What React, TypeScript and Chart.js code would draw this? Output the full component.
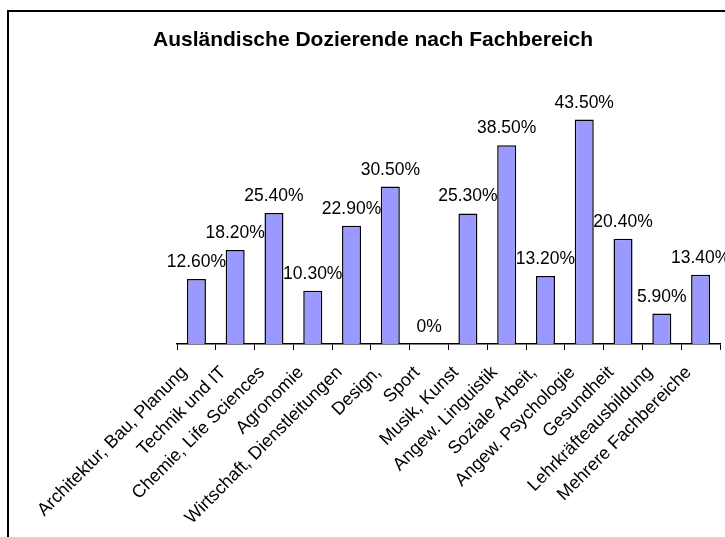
import React, { useEffect, useRef } from "react";
import { Chart, registerables } from "chart.js";

Chart.register(...registerables);

const TITLE = "Ausländische Dozierende nach Fachbereich";

const categories = [
  "Architektur, Bau, Planung",
  "Technik und IT",
  "Chemie, Life Sciences",
  "Agronomie",
  "Wirtschaft, Dienstleitungen",
  "Design,",
  "Sport",
  "Musik, Kunst",
  "Angew. Linguistik",
  "Soziale Arbeit,",
  "Angew. Psychologie",
  "Gesundheit",
  "Lehrkräfteausbildung",
  "Mehrere Fachbereiche",
];

const values = [12.6, 18.2, 25.4, 10.3, 22.9, 30.5, 0, 25.3, 38.5, 13.2, 43.5, 20.4, 5.9, 13.4];

const FONT = '"Liberation Sans", Arial, Helvetica, sans-serif';

const valueLabels = {
  id: "valueLabels",
  afterDatasetsDraw(chart: any) {
    const { ctx } = chart;
    const meta = chart.getDatasetMeta(0);
    ctx.save();
    ctx.font = `17.5px ${FONT}`;
    ctx.fillStyle = "#000";
    ctx.textAlign = "center";
    ctx.textBaseline = "alphabetic";
    meta.data.forEach((bar: any, i: number) => {
      const v = values[i];
      const text = v === 0 ? "0%" : v.toFixed(2) + "%";
      ctx.fillText(text, bar.x, bar.y - 12);
    });
    ctx.restore();
  },
};

export default function App() {
  const ref = useRef<HTMLCanvasElement | null>(null);

  useEffect(() => {
    if (!ref.current) return;
    const chart = new Chart(ref.current, {
      type: "bar",
      data: {
        labels: categories,
        datasets: [
          {
            data: values,
            backgroundColor: "#9999FF",
            borderColor: "#000000",
            borderWidth: 1.5,
            barPercentage: 0.49,
            categoryPercentage: 1,
          },
        ],
      },
      options: {
        responsive: false,
        animation: false,
        devicePixelRatio: 1,
        layout: { padding: { left: 26, right: 40, top: 0, bottom: 0 } },
        plugins: {
          legend: { display: false },
          tooltip: { enabled: false },
          title: {
            display: true,
            text: TITLE,
            color: "#000",
            font: { family: FONT, size: 21, weight: "bold" },
            padding: { top: 28, bottom: 32.8 },
          },
        },
        scales: {
          x: {
            grid: {
              drawOnChartArea: false,
              drawTicks: true,
              tickLength: 6,
              color: "#000",
              offset: true,
            },
            border: { display: true, color: "#000", width: 1.5 },
            ticks: {
              autoSkip: false,
              maxRotation: 45,
              minRotation: 45,
              color: "#000",
              padding: 12,
              labelOffset: -12,
              font: { family: FONT, size: 18 },
            },
            afterFit: (scale: any) => {
              scale.height = 193;
            },
          },
          y: {
            min: 0,
            max: 50,
            grid: { display: false },
            border: { display: false },
            ticks: { display: false },
            afterFit: (scale: any) => {
              scale.width = 151;
            },
          },
        },
      },
      plugins: [valueLabels],
    });
    return () => chart.destroy();
  }, []);

  return (
    <div
      style={{
        position: "fixed",
        left: 0,
        top: 0,
        width: 725,
        height: 537,
        overflow: "hidden",
        background: "#fff",
      }}
    >
      <canvas
        ref={ref}
        width={760}
        height={537}
        style={{ position: "absolute", left: 0, top: 0, width: 760, height: 537 }}
      />
      <div
        style={{
          position: "absolute",
          left: 7,
          top: 10,
          width: 900,
          height: 700,
          borderTop: "2px solid #000",
          borderLeft: "2px solid #000",
          pointerEvents: "none",
        }}
      />
    </div>
  );
}
